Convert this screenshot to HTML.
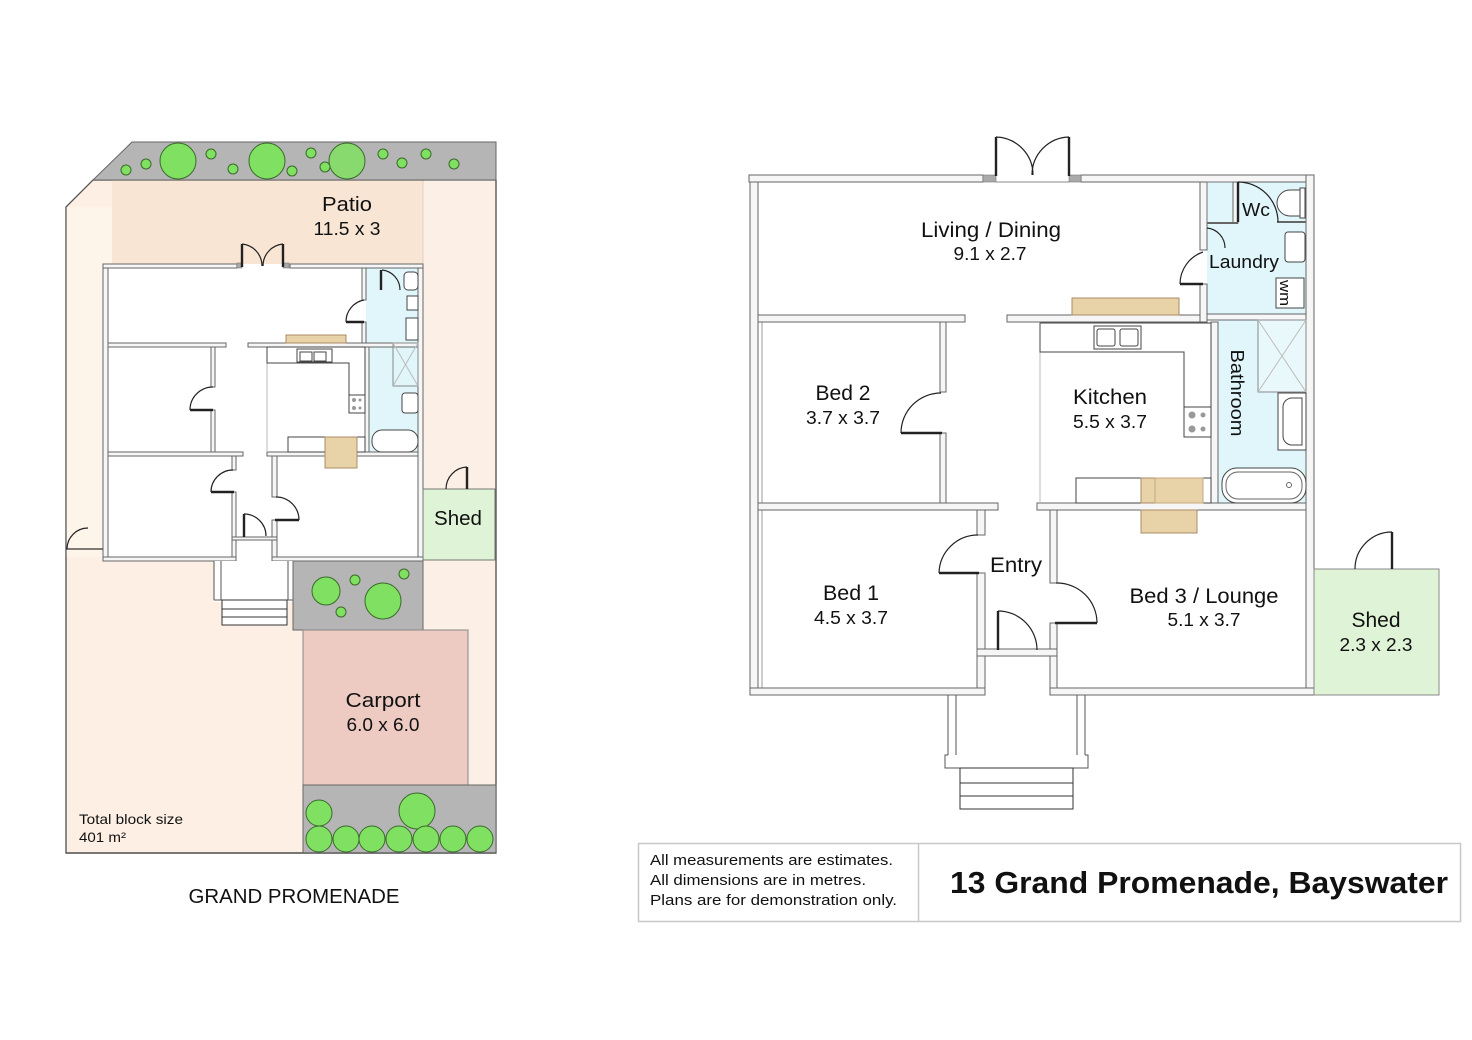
<!DOCTYPE html>
<html><head><meta charset="utf-8"><style>
html,body{margin:0;padding:0;background:#fff;}
svg{display:block;}
text{font-family:"Liberation Sans",sans-serif;fill:#111;}
.w{fill:#f6f6f6;stroke:#666;stroke-width:1;}
.d{fill:none;stroke:#222;stroke-width:1.2;}
.l{stroke:#222;stroke-width:2.4;}
.f{fill:#fff;stroke:#444;stroke-width:1;}
.t{fill:#e8d2a8;stroke:#a88c66;stroke-width:1;}
.tr{fill:#80e062;stroke:#3a6a2a;stroke-width:1;}
</style></head><body>
<svg width="1472" height="1040" viewBox="0 0 1472 1040" xmlns="http://www.w3.org/2000/svg">
<rect width="1472" height="1040" fill="#fff"/>

<!-- ================= LEFT SITE PLAN ================= -->
<path d="M93,180 L66,207 L66,853 L496,853 L496,180 Z" fill="#fdefe3" stroke="#555" stroke-width="1.2"/>
<rect x="66" y="207" width="46" height="350" fill="#fdf4ea"/>
<rect x="112" y="180" width="311" height="85" fill="#f8e5d3"/>
<rect x="424" y="180" width="71" height="673" fill="#fcf0e6"/>
<line x1="423" y1="180" x2="423" y2="489" stroke="#e0d0c2" stroke-width="1"/>
<path d="M93,180 L66,207 L66,853 L496,853 L496,180 Z" fill="none" stroke="#555" stroke-width="1.2"/>
<path d="M132,142 L496,142 L496,180 L93,180 Z" fill="#b5b5b5" stroke="#666" stroke-width="1"/>
<!-- top trees -->
<g class="tr">
<circle cx="178" cy="161" r="18"/><circle cx="267" cy="161" r="18"/><circle cx="347" cy="161" r="18" fill="#88d96e"/>
<circle cx="126" cy="170" r="5"/><circle cx="146" cy="164" r="5"/><circle cx="211" cy="154" r="5"/><circle cx="233" cy="169" r="5"/>
<circle cx="292" cy="171" r="5"/><circle cx="311" cy="153" r="5"/><circle cx="325" cy="167" r="5"/><circle cx="383" cy="154" r="5"/>
<circle cx="402" cy="163" r="5"/><circle cx="426" cy="154" r="5"/><circle cx="454" cy="164" r="5"/>
</g>
<text x="347" y="211" font-size="20" text-anchor="middle" textLength="50" lengthAdjust="spacingAndGlyphs">Patio</text>
<text x="347" y="235" font-size="18" text-anchor="middle" textLength="67" lengthAdjust="spacingAndGlyphs">11.5 x 3</text>

<!-- house interior -->
<rect x="103" y="264" width="320" height="297" fill="#fff"/>
<rect x="366" y="268" width="52" height="75" fill="#e0f6fa"/>
<rect x="369" y="347" width="49" height="105" fill="#e0f6fa"/>
<!-- walls -->
<rect class="w" x="103" y="264" width="134" height="4"/>
<rect class="w" x="290" y="264" width="133" height="4"/>
<rect x="237" y="263" width="5" height="5" fill="#aaa" stroke="#777" stroke-width="0.6"/>
<rect x="283" y="263" width="6" height="5" fill="#aaa" stroke="#777" stroke-width="0.6"/>
<rect class="w" x="103" y="268" width="5" height="293"/>
<rect class="w" x="418" y="268" width="5" height="293"/>
<rect class="w" x="108" y="343" width="118" height="4"/>
<rect class="w" x="248" y="343" width="170" height="4"/>
<rect class="w" x="362" y="268" width="4" height="32"/>
<rect class="w" x="362" y="322" width="4" height="21"/>
<rect class="w" x="365" y="347" width="4" height="105"/>
<rect class="w" x="211" y="347" width="4" height="40"/>
<rect class="w" x="211" y="410" width="4" height="42"/>
<rect class="w" x="108" y="452" width="135" height="4"/>
<rect class="w" x="267" y="452" width="151" height="4"/>
<rect class="w" x="232" y="456" width="4" height="14"/>
<rect class="w" x="232" y="492" width="4" height="69"/>
<rect class="w" x="272" y="456" width="5" height="41"/>
<rect class="w" x="272" y="520" width="5" height="41"/>
<rect class="w" x="232" y="537" width="45" height="3"/>
<rect class="w" x="103" y="557" width="133" height="4"/>
<rect class="w" x="272" y="557" width="151" height="4"/>
<line x1="267" y1="347" x2="267" y2="452" stroke="#bbb" stroke-width="1"/>
<!-- fixtures -->
<rect class="t" x="286" y="335" width="60" height="8"/>
<path class="f" d="M267,347 H365 V413 H349 V363 H267 Z"/>
<rect class="f" x="297" y="349" width="35" height="13"/>
<rect class="f" x="300" y="352" width="12" height="9"/><rect class="f" x="314" y="352" width="12" height="9"/>
<rect class="f" x="349" y="395" width="16" height="18"/>
<circle cx="354" cy="400" r="2" fill="#999"/><circle cx="360" cy="400" r="1.5" fill="#999"/><circle cx="354" cy="408" r="2" fill="#999"/><circle cx="360" cy="408" r="1.5" fill="#999"/>
<rect class="f" x="288" y="437" width="77" height="15"/>
<rect class="t" x="325" y="437" width="32" height="31"/>
<rect class="f" x="372" y="430" width="46" height="22" rx="10"/>
<rect class="f" x="402" y="393" width="16" height="20" rx="3"/>
<rect x="393" y="343" width="25" height="43" fill="none" stroke="#888" stroke-width="1"/>
<line x1="393" y1="343" x2="418" y2="386" stroke="#bbb"/><line x1="418" y1="343" x2="393" y2="386" stroke="#bbb"/>
<rect class="f" x="404" y="272" width="14" height="18" rx="4"/>
<rect class="f" x="407" y="296" width="11" height="14"/>
<rect class="f" x="406" y="318" width="12" height="22"/>
<!-- doors -->
<line class="l" x1="242" y1="267" x2="242" y2="244"/><line class="l" x1="283" y1="267" x2="283" y2="244"/>
<path class="d" d="M242,244 A22,22 0 0,1 262,266"/><path class="d" d="M283,244 A22,22 0 0,0 263,266"/>
<line class="l" x1="213" y1="410" x2="190" y2="410"/><path class="d" d="M190,410 A23,23 0 0,1 213,387"/>
<line class="l" x1="234" y1="492" x2="211" y2="492"/><path class="d" d="M211,492 A22,22 0 0,1 233,470"/>
<line class="l" x1="275" y1="520" x2="299" y2="520"/><path class="d" d="M299,520 A23,23 0 0,0 276,497"/>
<line class="l" x1="244" y1="537" x2="244" y2="514"/><path class="d" d="M244,514 A22,22 0 0,1 266,536"/>
<path class="d" d="M364,300 A22,22 0 0,0 346,322"/><line class="l" x1="346" y1="322" x2="364" y2="322"/>
<path class="d" d="M382,270 A20,20 0 0,1 400,290"/><line class="l" x1="381" y1="270" x2="381" y2="290"/>
<!-- porch -->
<rect x="214" y="561" width="79" height="41" fill="#fff"/>
<line x1="214" y1="561" x2="214" y2="600" stroke="#555"/><line x1="221" y1="561" x2="221" y2="600" stroke="#555"/>
<line x1="288" y1="561" x2="288" y2="600" stroke="#555"/><line x1="293" y1="561" x2="293" y2="600" stroke="#555"/>
<line x1="214" y1="600" x2="293" y2="600" stroke="#555"/>
<rect x="222" y="600" width="65" height="25" fill="#fff" stroke="#333"/>
<line x1="222" y1="609" x2="287" y2="609" stroke="#333"/><line x1="222" y1="617" x2="287" y2="617" stroke="#333"/>
<!-- garden patch -->
<rect x="293" y="561" width="130" height="69" fill="#b5b5b5" stroke="#666"/>
<g class="tr"><circle cx="326" cy="591" r="14"/><circle cx="355" cy="580" r="5"/><circle cx="383" cy="601" r="18"/><circle cx="341" cy="612" r="5"/><circle cx="404" cy="574" r="5"/></g>
<!-- shed -->
<rect x="423" y="489" width="72" height="71" fill="#dff3d6" stroke="#777"/>
<text x="458" y="525" font-size="20" text-anchor="middle" textLength="48" lengthAdjust="spacingAndGlyphs">Shed</text>
<line class="l" x1="467" y1="467" x2="467" y2="489"/><path class="d" d="M467,467 A22,22 0 0,0 446,489"/>
<!-- gate -->
<path class="d" d="M67,549 A21,21 0 0,1 88,528"/><line x1="66" y1="549" x2="103" y2="549" stroke="#333" stroke-width="1.2"/>
<!-- carport -->
<rect x="303" y="630" width="165" height="155" fill="#edcbc2" stroke="#888"/>
<text x="383" y="707" font-size="20" text-anchor="middle" textLength="75" lengthAdjust="spacingAndGlyphs">Carport</text>
<text x="383" y="731" font-size="18" text-anchor="middle" textLength="73" lengthAdjust="spacingAndGlyphs">6.0 x 6.0</text>
<rect x="303" y="785" width="193" height="68" fill="#b5b5b5" stroke="#666"/>
<g class="tr">
<circle cx="319" cy="813" r="13"/><circle cx="417" cy="811" r="18"/>
<circle cx="319" cy="839" r="13"/><circle cx="346" cy="839" r="13"/><circle cx="372" cy="839" r="13"/><circle cx="399" cy="839" r="13"/><circle cx="426" cy="839" r="13"/><circle cx="453" cy="839" r="13"/><circle cx="480" cy="839" r="13"/>
</g>
<line x1="66" y1="853" x2="496" y2="853" stroke="#555" stroke-width="1.2"/>
<text x="79" y="824" font-size="14" textLength="104" lengthAdjust="spacingAndGlyphs">Total block size</text>
<text x="79" y="842" font-size="14" textLength="47" lengthAdjust="spacingAndGlyphs">401 m²</text>
<text x="294" y="903" font-size="20" text-anchor="middle" textLength="211" lengthAdjust="spacingAndGlyphs">GRAND PROMENADE</text>

<!-- ================= RIGHT FLOOR PLAN ================= -->
<rect x="1207" y="182" width="99" height="133" fill="#e0f6fa"/>
<rect x="1218" y="320" width="88" height="183" fill="#e0f6fa"/>
<!-- walls -->
<rect class="w" x="749" y="175" width="234" height="7"/>
<rect class="w" x="1081" y="175" width="233" height="7"/>
<line x1="996" y1="182" x2="1069" y2="182" stroke="#888"/>
<rect x="983" y="175" width="13" height="7" fill="#aaa" stroke="#777" stroke-width="0.6"/>
<rect x="1069" y="175" width="12" height="7" fill="#aaa" stroke="#777" stroke-width="0.6"/>
<rect class="w" x="750" y="182" width="8" height="513"/>
<line x1="762" y1="322" x2="762" y2="688" stroke="#999"/>
<rect class="w" x="758" y="315" width="207" height="7"/>
<rect class="w" x="1007" y="315" width="200" height="7"/>
<rect class="w" x="1200" y="182" width="7" height="68"/>
<rect class="w" x="1200" y="284" width="7" height="38"/>
<rect class="w" x="1207" y="314" width="99" height="6"/>
<rect class="w" x="1306" y="175" width="8" height="520"/>
<rect class="w" x="940" y="322" width="6" height="70"/>
<rect class="w" x="940" y="433" width="6" height="70"/>
<rect class="w" x="758" y="503" width="240" height="7"/>
<rect class="w" x="1037" y="503" width="269" height="7"/>
<rect class="w" x="1211" y="322" width="7" height="181"/>
<rect class="w" x="977" y="510" width="8" height="25"/>
<rect class="w" x="977" y="573" width="8" height="122"/>
<rect class="w" x="1050" y="510" width="7" height="73"/>
<rect class="w" x="1050" y="623" width="7" height="72"/>
<rect class="w" x="977" y="649" width="80" height="7"/>
<rect class="w" x="750" y="688" width="235" height="7"/>
<rect class="w" x="1050" y="688" width="264" height="7"/>
<line x1="1040" y1="322" x2="1040" y2="503" stroke="#bbb"/>
<!-- WC / laundry fixtures -->
<rect x="1207" y="182" width="26" height="41" fill="#e0f6fa" stroke="#777"/>
<rect class="w" x="1233" y="182" width="5" height="41"/>
<line x1="1207" y1="223" x2="1238" y2="223" stroke="#666" stroke-width="2"/>
<line x1="1277" y1="222" x2="1306" y2="222" stroke="#666" stroke-width="2"/>
<path class="f" d="M1300,190 H1290 A12,12 0 0,0 1290,216 H1300 Z"/>
<rect class="f" x="1300" y="188" width="5" height="30"/>
<rect class="f" x="1285" y="232" width="20" height="30" rx="3"/>
<rect class="f" x="1276" y="278" width="28" height="30"/>
<text transform="translate(1285,293) rotate(90)" font-size="15" text-anchor="middle" y="5" textLength="26" lengthAdjust="spacingAndGlyphs">wm</text>
<!-- bathroom -->
<rect x="1258" y="320" width="48" height="72" fill="#e9f9fb" stroke="#888"/>
<line x1="1258" y1="320" x2="1306" y2="392" stroke="#bbb"/><line x1="1306" y1="320" x2="1258" y2="392" stroke="#bbb"/>
<rect class="f" x="1278" y="393" width="28" height="57"/>
<path class="f" d="M1302,398 H1292 A9,9 0 0,0 1283,407 V436 A9,9 0 0,0 1292,445 H1302 Z"/>
<rect class="f" x="1222" y="468" width="84" height="35" rx="15"/>
<rect x="1226" y="472" width="76" height="27" rx="12" fill="none" stroke="#666"/>
<circle cx="1289" cy="485" r="2.5" fill="none" stroke="#666"/>
<!-- living counter -->
<rect class="t" x="1072" y="298" width="107" height="17"/>
<!-- kitchen -->
<path class="f" d="M1040,323 H1211 V437 H1184 V352 H1040 Z"/>
<rect class="f" x="1094" y="326" width="47" height="23"/>
<rect class="f" x="1097" y="329" width="18" height="17" rx="2"/><rect class="f" x="1120" y="329" width="18" height="17" rx="2"/>
<rect class="f" x="1184" y="407" width="27" height="30"/>
<circle cx="1192" cy="415" r="3.5" fill="#999"/><circle cx="1203" cy="415" r="2.5" fill="#999"/>
<circle cx="1192" cy="429" r="3.5" fill="#999"/><circle cx="1203" cy="429" r="2.5" fill="#999"/>
<rect class="f" x="1076" y="478" width="135" height="25"/>
<rect class="t" x="1141" y="478" width="62" height="25"/>
<rect x="1155" y="478" width="48" height="25" fill="none" stroke="#c5a87c"/>
<rect class="t" x="1141" y="510" width="56" height="23"/>
<!-- doors -->
<line class="l" x1="996" y1="176" x2="996" y2="137"/><line class="l" x1="1069" y1="176" x2="1069" y2="137"/>
<path class="d" d="M996,137 A38,38 0 0,1 1033,175"/><path class="d" d="M1069,137 A38,38 0 0,0 1032,175"/>
<line class="l" x1="942" y1="433" x2="901" y2="433"/><path class="d" d="M901,433 A40,40 0 0,1 941,393"/>
<line class="l" x1="979" y1="573" x2="939" y2="573"/><path class="d" d="M939,573 A39,39 0 0,1 978,535"/>
<line class="l" x1="1055" y1="623" x2="1097" y2="623"/><path class="d" d="M1097,623 A40,40 0 0,0 1056,583"/>
<line class="l" x1="998" y1="650" x2="998" y2="611"/><path class="d" d="M998,611 A39,39 0 0,1 1037,650"/>
<path class="d" d="M1203,252 A34,34 0 0,0 1180,284"/><line class="l" x1="1180" y1="284" x2="1203" y2="284"/>
<line class="l" x1="1238" y1="182" x2="1238" y2="222"/><path class="d" d="M1238,182 A40,40 0 0,1 1278,222"/>
<path class="d" d="M1207,228 A20,20 0 0,1 1225,248"/>
<!-- porch -->
<line x1="948" y1="695" x2="948" y2="755" stroke="#555"/><line x1="956" y1="695" x2="956" y2="755" stroke="#555"/>
<line x1="1077" y1="695" x2="1077" y2="755" stroke="#555"/><line x1="1085" y1="695" x2="1085" y2="755" stroke="#555"/>
<path d="M948,755 H945 V768 H1088 V755 H1085" fill="none" stroke="#555"/>
<rect x="960" y="768" width="113" height="41" fill="#fff" stroke="#333"/>
<line x1="960" y1="783" x2="1073" y2="783" stroke="#333"/><line x1="960" y1="796" x2="1073" y2="796" stroke="#333"/>
<!-- shed -->
<rect x="1314" y="569" width="125" height="126" fill="#dff3d6" stroke="#888"/>
<line class="l" x1="1392" y1="532" x2="1392" y2="569"/><path class="d" d="M1392,532 A37,37 0 0,0 1355,569"/>

<!-- labels -->
<text x="991" y="237" font-size="21" text-anchor="middle" textLength="140" lengthAdjust="spacingAndGlyphs">Living / Dining</text>
<text x="990" y="260" font-size="18" text-anchor="middle" textLength="73" lengthAdjust="spacingAndGlyphs">9.1 x 2.7</text>
<text x="1256" y="216" font-size="18" text-anchor="middle" textLength="28" lengthAdjust="spacingAndGlyphs">Wc</text>
<text x="1244" y="268" font-size="18" text-anchor="middle" textLength="70" lengthAdjust="spacingAndGlyphs">Laundry</text>
<text transform="translate(1237,393) rotate(90)" y="6" font-size="18" text-anchor="middle" textLength="87" lengthAdjust="spacingAndGlyphs">Bathroom</text>
<text x="843" y="400" font-size="21" text-anchor="middle" textLength="55" lengthAdjust="spacingAndGlyphs">Bed 2</text>
<text x="843" y="424" font-size="18" text-anchor="middle" textLength="74" lengthAdjust="spacingAndGlyphs">3.7 x 3.7</text>
<text x="1110" y="404" font-size="21" text-anchor="middle" textLength="74" lengthAdjust="spacingAndGlyphs">Kitchen</text>
<text x="1110" y="428" font-size="18" text-anchor="middle" textLength="74" lengthAdjust="spacingAndGlyphs">5.5 x 3.7</text>
<text x="851" y="600" font-size="21" text-anchor="middle" textLength="56" lengthAdjust="spacingAndGlyphs">Bed 1</text>
<text x="851" y="624" font-size="18" text-anchor="middle" textLength="74" lengthAdjust="spacingAndGlyphs">4.5 x 3.7</text>
<text x="1016" y="572" font-size="21" text-anchor="middle" textLength="52" lengthAdjust="spacingAndGlyphs">Entry</text>
<text x="1204" y="603" font-size="21" text-anchor="middle" textLength="149" lengthAdjust="spacingAndGlyphs">Bed 3 / Lounge</text>
<text x="1204" y="626" font-size="18" text-anchor="middle" textLength="73" lengthAdjust="spacingAndGlyphs">5.1 x 3.7</text>
<text x="1376" y="627" font-size="21" text-anchor="middle" textLength="49" lengthAdjust="spacingAndGlyphs">Shed</text>
<text x="1376" y="651" font-size="18" text-anchor="middle" textLength="73" lengthAdjust="spacingAndGlyphs">2.3 x 2.3</text>

<!-- footer -->
<rect x="638.5" y="843.5" width="822" height="78" fill="#fff" stroke="#c8c8c8" stroke-width="1.5"/>
<line x1="918.5" y1="843" x2="918.5" y2="922" stroke="#c8c8c8" stroke-width="1.5"/>
<text x="650" y="865" font-size="15" textLength="243" lengthAdjust="spacingAndGlyphs">All measurements are estimates.</text>
<text x="650" y="885" font-size="15" textLength="216" lengthAdjust="spacingAndGlyphs">All dimensions are in metres.</text>
<text x="650" y="905" font-size="15" textLength="247" lengthAdjust="spacingAndGlyphs">Plans are for demonstration only.</text>
<text x="1199" y="893" font-size="31" font-weight="bold" text-anchor="middle" textLength="498" lengthAdjust="spacingAndGlyphs">13 Grand Promenade, Bayswater</text>
</svg>
</body></html>
